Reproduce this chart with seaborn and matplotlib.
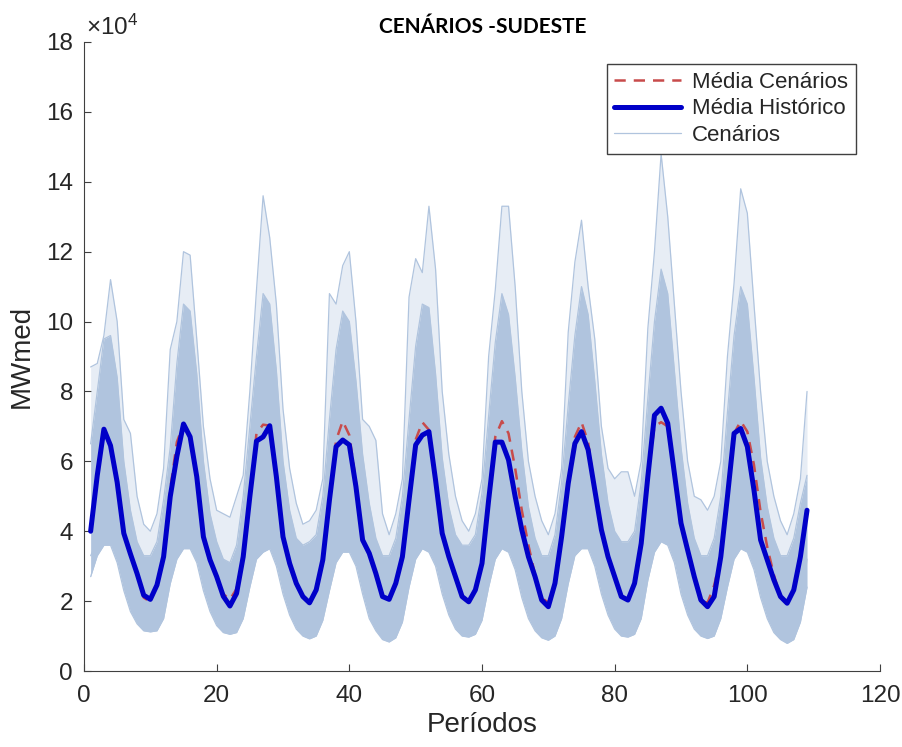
import numpy as np
import pandas as pd
import matplotlib
matplotlib.use('Agg')
import matplotlib.pyplot as plt
import seaborn as sns

# Períodos 1..109 ; valores em 10^4 MWmed
periodos = list(range(1, 110))

media_historico = [
    4.00, 5.60, 6.92, 6.45, 5.40, 3.94, 3.35, 2.79, 2.17, 2.05, 2.46, 3.27,
    4.99, 6.14, 7.07, 6.70, 5.56, 3.84, 3.18, 2.70, 2.14, 1.86, 2.22, 3.27,
    4.99, 6.58, 6.70, 7.02, 5.56, 3.84, 3.08, 2.51, 2.13, 1.95, 2.32, 3.18,
    4.89, 6.42, 6.61, 6.47, 5.27, 3.75, 3.37, 2.79, 2.13, 2.05, 2.51, 3.27,
    4.89, 6.47, 6.75, 6.85, 5.46, 3.94, 3.27, 2.70, 2.13, 1.98, 2.32, 3.08,
    4.89, 6.55, 6.55, 6.04, 4.99, 4.04, 3.27, 2.70, 2.03, 1.84, 2.51, 3.84,
    5.37, 6.51, 6.85, 6.33, 5.18, 4.04, 3.27, 2.70, 2.13, 2.03, 2.51, 3.65,
    5.56, 7.32, 7.52, 7.09, 5.66, 4.23, 3.46, 2.70, 2.03, 1.84, 2.13, 3.27,
    4.99, 6.80, 6.94, 6.42, 5.18, 3.75, 3.18, 2.61, 2.13, 1.94, 2.32, 3.27,
    4.60]

media_cenarios = [
    4.00, 5.60, 6.92, 6.45, 5.40, 3.94, 3.35, 2.79, 2.10, 1.98, 2.46, 3.27,
    5.20, 6.55, 7.07, 6.70, 5.56, 3.84, 3.18, 2.70, 2.20, 2.05, 2.35, 3.27,
    4.99, 6.80, 7.05, 7.02, 5.56, 3.84, 3.08, 2.51, 2.13, 1.95, 2.32, 3.18,
    4.89, 6.60, 7.15, 6.75, 5.40, 3.75, 3.37, 2.79, 2.13, 2.05, 2.51, 3.27,
    4.89, 6.62, 7.12, 6.90, 5.46, 3.94, 3.27, 2.70, 2.13, 1.98, 2.32, 3.08,
    4.89, 6.70, 7.15, 6.80, 5.80, 4.60, 3.60, 2.75, 2.10, 1.95, 2.51, 3.84,
    5.37, 6.70, 7.12, 6.55, 5.18, 4.04, 3.27, 2.70, 2.13, 2.03, 2.51, 3.65,
    5.56, 7.00, 7.12, 7.00, 5.66, 4.23, 3.46, 2.70, 2.03, 1.95, 2.45, 3.27,
    4.99, 6.80, 7.15, 6.85, 5.90, 4.55, 3.55, 2.75, 2.13, 1.94, 2.32, 3.27,
    4.60]

# envelope dos cenários (máximo, faixa densa superior/inferior, mínimo)
cenarios_max = [
    8.7, 8.8, 9.6, 11.2, 10.0, 7.2, 6.8, 5.0, 4.2, 4.0, 4.5, 5.8,
    9.2, 10.0, 12.0, 11.9, 9.5, 7.0, 5.5, 4.6, 4.5, 4.4, 5.0, 5.6,
    8.0, 10.9, 13.6, 12.4, 10.5, 7.5, 5.8, 4.8, 4.2, 4.3, 4.6, 5.5,
    10.8, 10.5, 11.6, 12.0, 10.0, 7.2, 7.0, 6.6, 4.5, 3.9, 4.5, 5.5,
    10.7, 11.8, 11.4, 13.3, 11.5, 8.0, 6.2, 5.0, 4.3, 4.0, 4.5, 5.5,
    9.0, 10.9, 13.3, 13.3, 11.0, 8.0, 6.0, 5.0, 4.3, 3.9, 4.5, 5.8,
    9.7, 11.7, 12.9, 11.0, 9.5, 7.0, 5.8, 5.5, 5.7, 5.7, 5.0, 6.0,
    9.8, 12.0, 14.8, 13.0, 10.5, 8.0, 6.0, 5.0, 4.9, 4.6, 5.0, 6.0,
    9.0, 11.1, 13.8, 13.1, 10.5, 8.0, 6.0, 5.0, 4.3, 3.9, 4.5, 5.5,
    8.0]

cenarios_sup = [
    6.5, 8.0, 9.5, 9.6, 8.4, 6.0, 4.6, 3.7, 3.3, 3.3, 3.7, 4.9,
    6.4, 8.8, 10.5, 10.3, 8.5, 6.0, 4.5, 3.7, 3.2, 3.1, 3.6, 5.0,
    7.0, 9.0, 10.8, 10.5, 8.6, 6.0, 4.6, 3.8, 3.6, 3.7, 3.9, 5.0,
    7.2, 9.2, 10.3, 10.0, 8.3, 6.2, 4.8, 3.8, 3.3, 3.3, 3.8, 5.0,
    7.2, 9.3, 10.5, 10.4, 8.5, 6.1, 4.7, 3.9, 3.6, 3.6, 3.9, 5.1,
    7.3, 9.4, 10.8, 10.2, 8.4, 6.3, 4.7, 3.8, 3.3, 3.3, 3.9, 5.4,
    7.6, 9.6, 11.0, 10.2, 8.3, 6.2, 4.8, 4.0, 3.7, 3.7, 4.0, 5.4,
    7.8, 10.0, 11.5, 10.8, 8.6, 6.4, 4.8, 3.8, 3.3, 3.3, 3.8, 5.0,
    7.4, 9.6, 11.0, 10.5, 8.4, 6.1, 4.7, 3.8, 3.3, 3.3, 3.8, 4.8,
    5.6]

cenarios_inf = [
    3.3, 3.7, 4.2, 4.2, 3.8, 2.9, 2.1, 1.7, 1.45, 1.35, 1.4, 1.9,
    3.0, 3.8, 4.0, 4.1, 3.7, 2.9, 2.1, 1.7, 1.4, 1.3, 1.35, 1.9,
    2.9, 3.7, 4.0, 4.1, 3.6, 2.7, 2.0, 1.6, 1.3, 1.15, 1.3, 1.9,
    2.9, 3.7, 4.0, 4.0, 3.6, 2.8, 2.0, 1.6, 1.25, 1.1, 1.25, 1.8,
    2.9, 3.8, 4.1, 4.1, 3.7, 2.8, 2.0, 1.6, 1.3, 1.2, 1.3, 1.8,
    3.0, 3.8, 4.1, 4.0, 3.5, 2.7, 2.0, 1.55, 1.25, 1.15, 1.3, 1.9,
    3.0, 3.8, 4.1, 4.1, 3.6, 2.8, 2.0, 1.6, 1.3, 1.2, 1.3, 1.9,
    3.1, 4.0, 4.3, 4.2, 3.7, 2.8, 2.0, 1.6, 1.3, 1.2, 1.3, 1.9,
    2.9, 3.8, 4.1, 4.0, 3.6, 2.7, 2.0, 1.55, 1.25, 1.1, 1.25, 1.8,
    3.2]

cenarios_min = [
    2.7, 3.3, 3.6, 3.6, 3.1, 2.3, 1.7, 1.35, 1.15, 1.12, 1.15, 1.5,
    2.5, 3.2, 3.5, 3.5, 3.1, 2.3, 1.7, 1.3, 1.1, 1.05, 1.1, 1.5,
    2.4, 3.2, 3.4, 3.5, 3.0, 2.2, 1.6, 1.2, 1.0, 0.92, 1.0, 1.45,
    2.3, 3.1, 3.4, 3.4, 3.0, 2.2, 1.5, 1.15, 0.9, 0.83, 0.95, 1.4,
    2.4, 3.2, 3.5, 3.4, 3.0, 2.2, 1.6, 1.2, 1.0, 0.97, 1.05, 1.45,
    2.4, 3.2, 3.5, 3.4, 2.9, 2.1, 1.5, 1.15, 0.95, 0.88, 1.0, 1.5,
    2.5, 3.3, 3.5, 3.5, 3.0, 2.2, 1.6, 1.2, 1.0, 0.97, 1.05, 1.5,
    2.6, 3.4, 3.7, 3.6, 3.1, 2.2, 1.6, 1.2, 1.0, 0.93, 1.0, 1.5,
    2.4, 3.2, 3.5, 3.4, 2.9, 2.1, 1.5, 1.1, 0.9, 0.79, 0.9, 1.4,
    2.4]

x_ticks = [0, 20, 40, 60, 80, 100, 120]
y_ticks = [0, 2, 4, 6, 8, 10, 12, 14, 16, 18]

sns.set_style('ticks')
plt.rcParams['font.family'] = ['Liberation Sans', 'DejaVu Sans']
plt.rcParams['mathtext.fontset'] = 'custom'
plt.rcParams['mathtext.rm'] = 'Liberation Sans'
plt.rcParams['mathtext.it'] = 'Liberation Sans:italic'

W, H = 903, 747
fig = plt.figure(figsize=(W / 100, H / 100), dpi=100)
ax = fig.add_axes([84 / W, 1 - 671 / H, (880 - 84) / W, (671 - 42) / H])

cor_cen = '#b0c4de'
cor_hist = '#0000c8'
cor_media = '#c84b4b'
texto = '#262626'
eixo = '#404040'

# faixa densa (do mínimo até a borda superior densa) e faixa esparsa até o máximo
ax.fill_between(periodos, cenarios_min, cenarios_sup, color=cor_cen, lw=0, zorder=1)
ax.fill_between(periodos, cenarios_sup, cenarios_max, color=cor_cen, alpha=0.3,
                lw=0, zorder=1)
for serie in (cenarios_min, cenarios_inf, cenarios_sup, cenarios_max):
    sns.lineplot(x=periodos, y=serie, ax=ax, color=cor_cen, lw=0.9, zorder=1)
l_cen = ax.lines[-1]

sns.lineplot(x=periodos, y=media_cenarios, ax=ax, color=cor_media, lw=1.8, zorder=3)
l_media = ax.lines[-1]
l_media.set_dashes((4.5, 3.2))

sns.lineplot(x=periodos, y=media_historico, ax=ax, color=cor_hist, lw=3.6, zorder=4)
l_hist = ax.lines[-1]

ax.set_xlim(0, 120)
ax.set_ylim(0, 18)
ax.set_xticks(x_ticks)
ax.set_yticks(y_ticks)
ax.set_xticklabels([str(v) for v in x_ticks])
ax.set_yticklabels([str(v) for v in y_ticks])
ax.tick_params(direction='in', length=5, width=0.8, color=eixo, labelcolor=texto,
               labelsize=17.5)
ax.tick_params(axis='x', pad=10)
ax.tick_params(axis='y', pad=8)
for s in ('top', 'right'):
    ax.spines[s].set_visible(False)
for s in ('left', 'bottom'):
    ax.spines[s].set_color(eixo)
    ax.spines[s].set_linewidth(0.8)

ax.set_xlabel('Períodos', fontsize=20, color=texto, labelpad=4)
ax.set_ylabel('MWmed', fontsize=20, color=texto, labelpad=8)

fig.text(483 / W, 1 - 27 / H, 'CENÁRIOS -SUDESTE', ha='center', va='center',
         fontsize=15, fontweight='bold', family='Lato', color='black')
fig.text(86 / W, 1 - 35 / H, r'$\times10^{4}$', ha='left', va='baseline',
         fontsize=17.5, color=texto)

leg = ax.legend(handles=[l_media, l_hist, l_cen],
                labels=['Média Cenários', 'Média Histórico', 'Cenários'],
                loc='upper right', bbox_to_anchor=(856 / W, 1 - 64 / H),
                bbox_transform=fig.transFigure, borderaxespad=0,
                fontsize=16, frameon=True, fancybox=False, shadow=False,
                handlelength=3.0, handletextpad=0.5, labelspacing=0.25,
                borderpad=0.35)
leg.get_frame().set_edgecolor(eixo)
leg.get_frame().set_linewidth(1.0)
leg.get_frame().set_facecolor('white')
leg.get_frame().set_alpha(1)
for t in leg.get_texts():
    t.set_color(texto)

fig.savefig('out.png', dpi=100)
